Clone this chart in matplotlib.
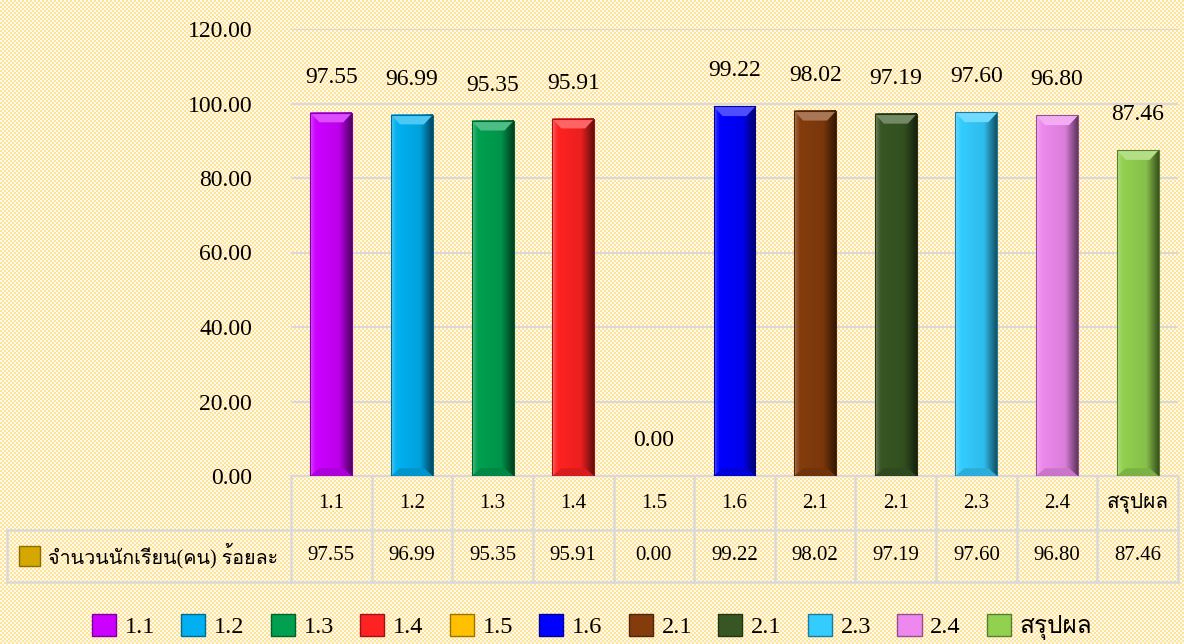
import numpy as np
import matplotlib
matplotlib.use("Agg")
from matplotlib import pyplot as plt
from matplotlib import font_manager
from matplotlib.ft2font import FT2Font
from matplotlib.patches import Patch, Rectangle, Polygon
from matplotlib.colors import to_rgb
from matplotlib.transforms import blended_transform_factory

# pick installed families that have Thai glyphs
thai = []
for fe in font_manager.fontManager.ttflist:
    try:
        cm = FT2Font(fe.fname).get_charmap()
    except Exception:
        continue
    if ord('ก') in cm and fe.name not in thai:
        thai.append(fe.name)

plt.rcParams['font.family'] = ['Liberation Serif'] + thai + ['DejaVu Sans']

categories = ['1.1', '1.2', '1.3', '1.4', '1.5', '1.6', '2.1', '2.1', '2.3', '2.4', 'สรุปผล']
values = [97.55, 96.99, 95.35, 95.91, 0.00, 99.22, 98.02, 97.19, 97.60, 96.80, 87.46]
colors = ['#cc00ff', '#00b0f0', '#00a050', '#ff2222', '#ffc000', '#0000ff',
          '#843c0c', '#375623', '#33ccff', '#ee88ee', '#92d050']
series_name = 'จำนวนนักเรียน(คน) ร้อยละ'
yticks = [0, 20, 40, 60, 80, 100, 120]


def shade(c, f):
    r, g, b = to_rgb(c)
    if f < 1:
        return (r * f, g * f, b * f)
    f = f - 1
    return (r + (1 - r) * f, g + (1 - g) * f, b + (1 - b) * f)


W, H = 1184, 644
fig = plt.figure(figsize=(W / 100, H / 100), dpi=100)

# checkered background
bgax = fig.add_axes([0, 0, 1, 1], zorder=-1)
yy, xx = np.mgrid[0:H, 0:W]
chk = ((xx // 2 + yy // 2) % 2)[..., None]
c1 = np.array(to_rgb('#fde29c'))
c2 = np.array(to_rgb('#fffaea'))
bgax.imshow(chk * c1 + (1 - chk) * c2, aspect='auto', interpolation='nearest')
bgax.axis('off')

ax = fig.add_axes([291 / W, 1 - 476 / H, 887 / W, 447 / H])
ax.patch.set_alpha(0)
x = np.arange(len(categories))
bw = 0.52
sw = 0.07
capd = 2.6  # bevel depth in data units

# horizontal light->dark profile across a bar
t = np.linspace(0, 1, 60)
prof = np.interp(t, [0, 0.06, 0.14, 0.7, 0.88, 1.0], [1.35, 1.12, 1.0, 0.92, 0.6, 0.4])

for xi, v, c in zip(x, values, colors):
    if v <= 0:
        continue
    strip = np.array([[shade(c, f) for f in prof]])
    ax.imshow(strip, extent=(xi - bw / 2, xi + bw / 2, 0, v), aspect='auto',
              interpolation='bilinear', zorder=3)
    l, r = xi - bw / 2, xi + bw / 2
    ax.add_patch(Polygon([(l, v), (r, v), (r - sw * 1.6, v - capd), (l + sw * 1.6, v - capd)],
                         closed=True, facecolor=shade(c, 1.3), edgecolor='none', zorder=4))
    ax.add_patch(Polygon([(l, 0), (r, 0), (r - sw * 1.6, capd * 0.8), (l + sw * 1.6, capd * 0.8)],
                         closed=True, facecolor=shade(c, 0.85), edgecolor='none', zorder=4))
    ax.add_patch(Rectangle((l, 0), bw, v, facecolor='none', edgecolor=shade(c, 0.6),
                           lw=0.8, zorder=5))

for xi, v in zip(x, values):
    ax.annotate(f'{v:.2f}', (xi, v), xytext=(0, 18), textcoords='offset points',
                ha='center', va='bottom', fontsize=17)

ax.set_xlim(-0.5, len(categories) - 0.5)
ax.set_ylim(0, 120)
ax.set_aspect('auto')
ax.set_yticks(yticks)
ax.set_yticklabels([f'{t:.2f}' for t in yticks], fontsize=17)
ax.set_xticks([])
ax.tick_params(axis='y', length=0, pad=28)
ax.grid(axis='y', color='#d9d9d9', linewidth=1.5, zorder=1)
for s in ['left', 'right', 'top']:
    ax.spines[s].set_visible(False)
ax.spines['bottom'].set_color('#d9d9d9')
ax.spines['bottom'].set_linewidth(1.5)

# data table under the chart
tr = blended_transform_factory(ax.transData, ax.transAxes)
r1 = -54 / 447
r2 = -106 / 447
left = (7 - 291) / 887
gc = '#d9d9d9'
for i in range(len(categories) + 1):
    ax.plot([i - 0.5, i - 0.5], [0, r2], color=gc, lw=1.8, transform=tr, clip_on=False)
for yv in [r1, r2]:
    ax.plot([left, 1], [yv, yv], color=gc, lw=1.8, transform=ax.transAxes, clip_on=False)
ax.plot([left, left], [r1, r2], color=gc, lw=1.8, transform=ax.transAxes, clip_on=False)

for xi, cat, v in zip(x, categories, values):
    ax.text(xi, r1 / 2, cat, transform=tr, ha='center', va='center', fontsize=15)
    ax.text(xi, (r1 + r2) / 2, f'{v:.2f}', transform=tr, ha='center', va='center', fontsize=15)

key = Rectangle(((19 - 291) / 887, (r1 + r2) / 2 - 10 / 447), 21 / 887, 20 / 447,
                transform=ax.transAxes, facecolor='#d4a800', edgecolor='#8a6d00',
                lw=1, clip_on=False)
ax.add_patch(key)
ax.text((48 - 291) / 887, (r1 + r2) / 2, series_name, transform=ax.transAxes,
        ha='left', va='center', fontsize=14.2)

handles = [Patch(facecolor=c, edgecolor=shade(c, 0.6), label=lab)
           for c, lab in zip(colors, categories)]
fig.legend(handles=handles, loc='lower center', bbox_to_anchor=(0.5, -0.028), ncol=11,
           frameon=False, fontsize=17.5, handlelength=1.0, handleheight=1.0,
           handletextpad=0.35, columnspacing=1.08)

fig.savefig('out.png', dpi=100)
